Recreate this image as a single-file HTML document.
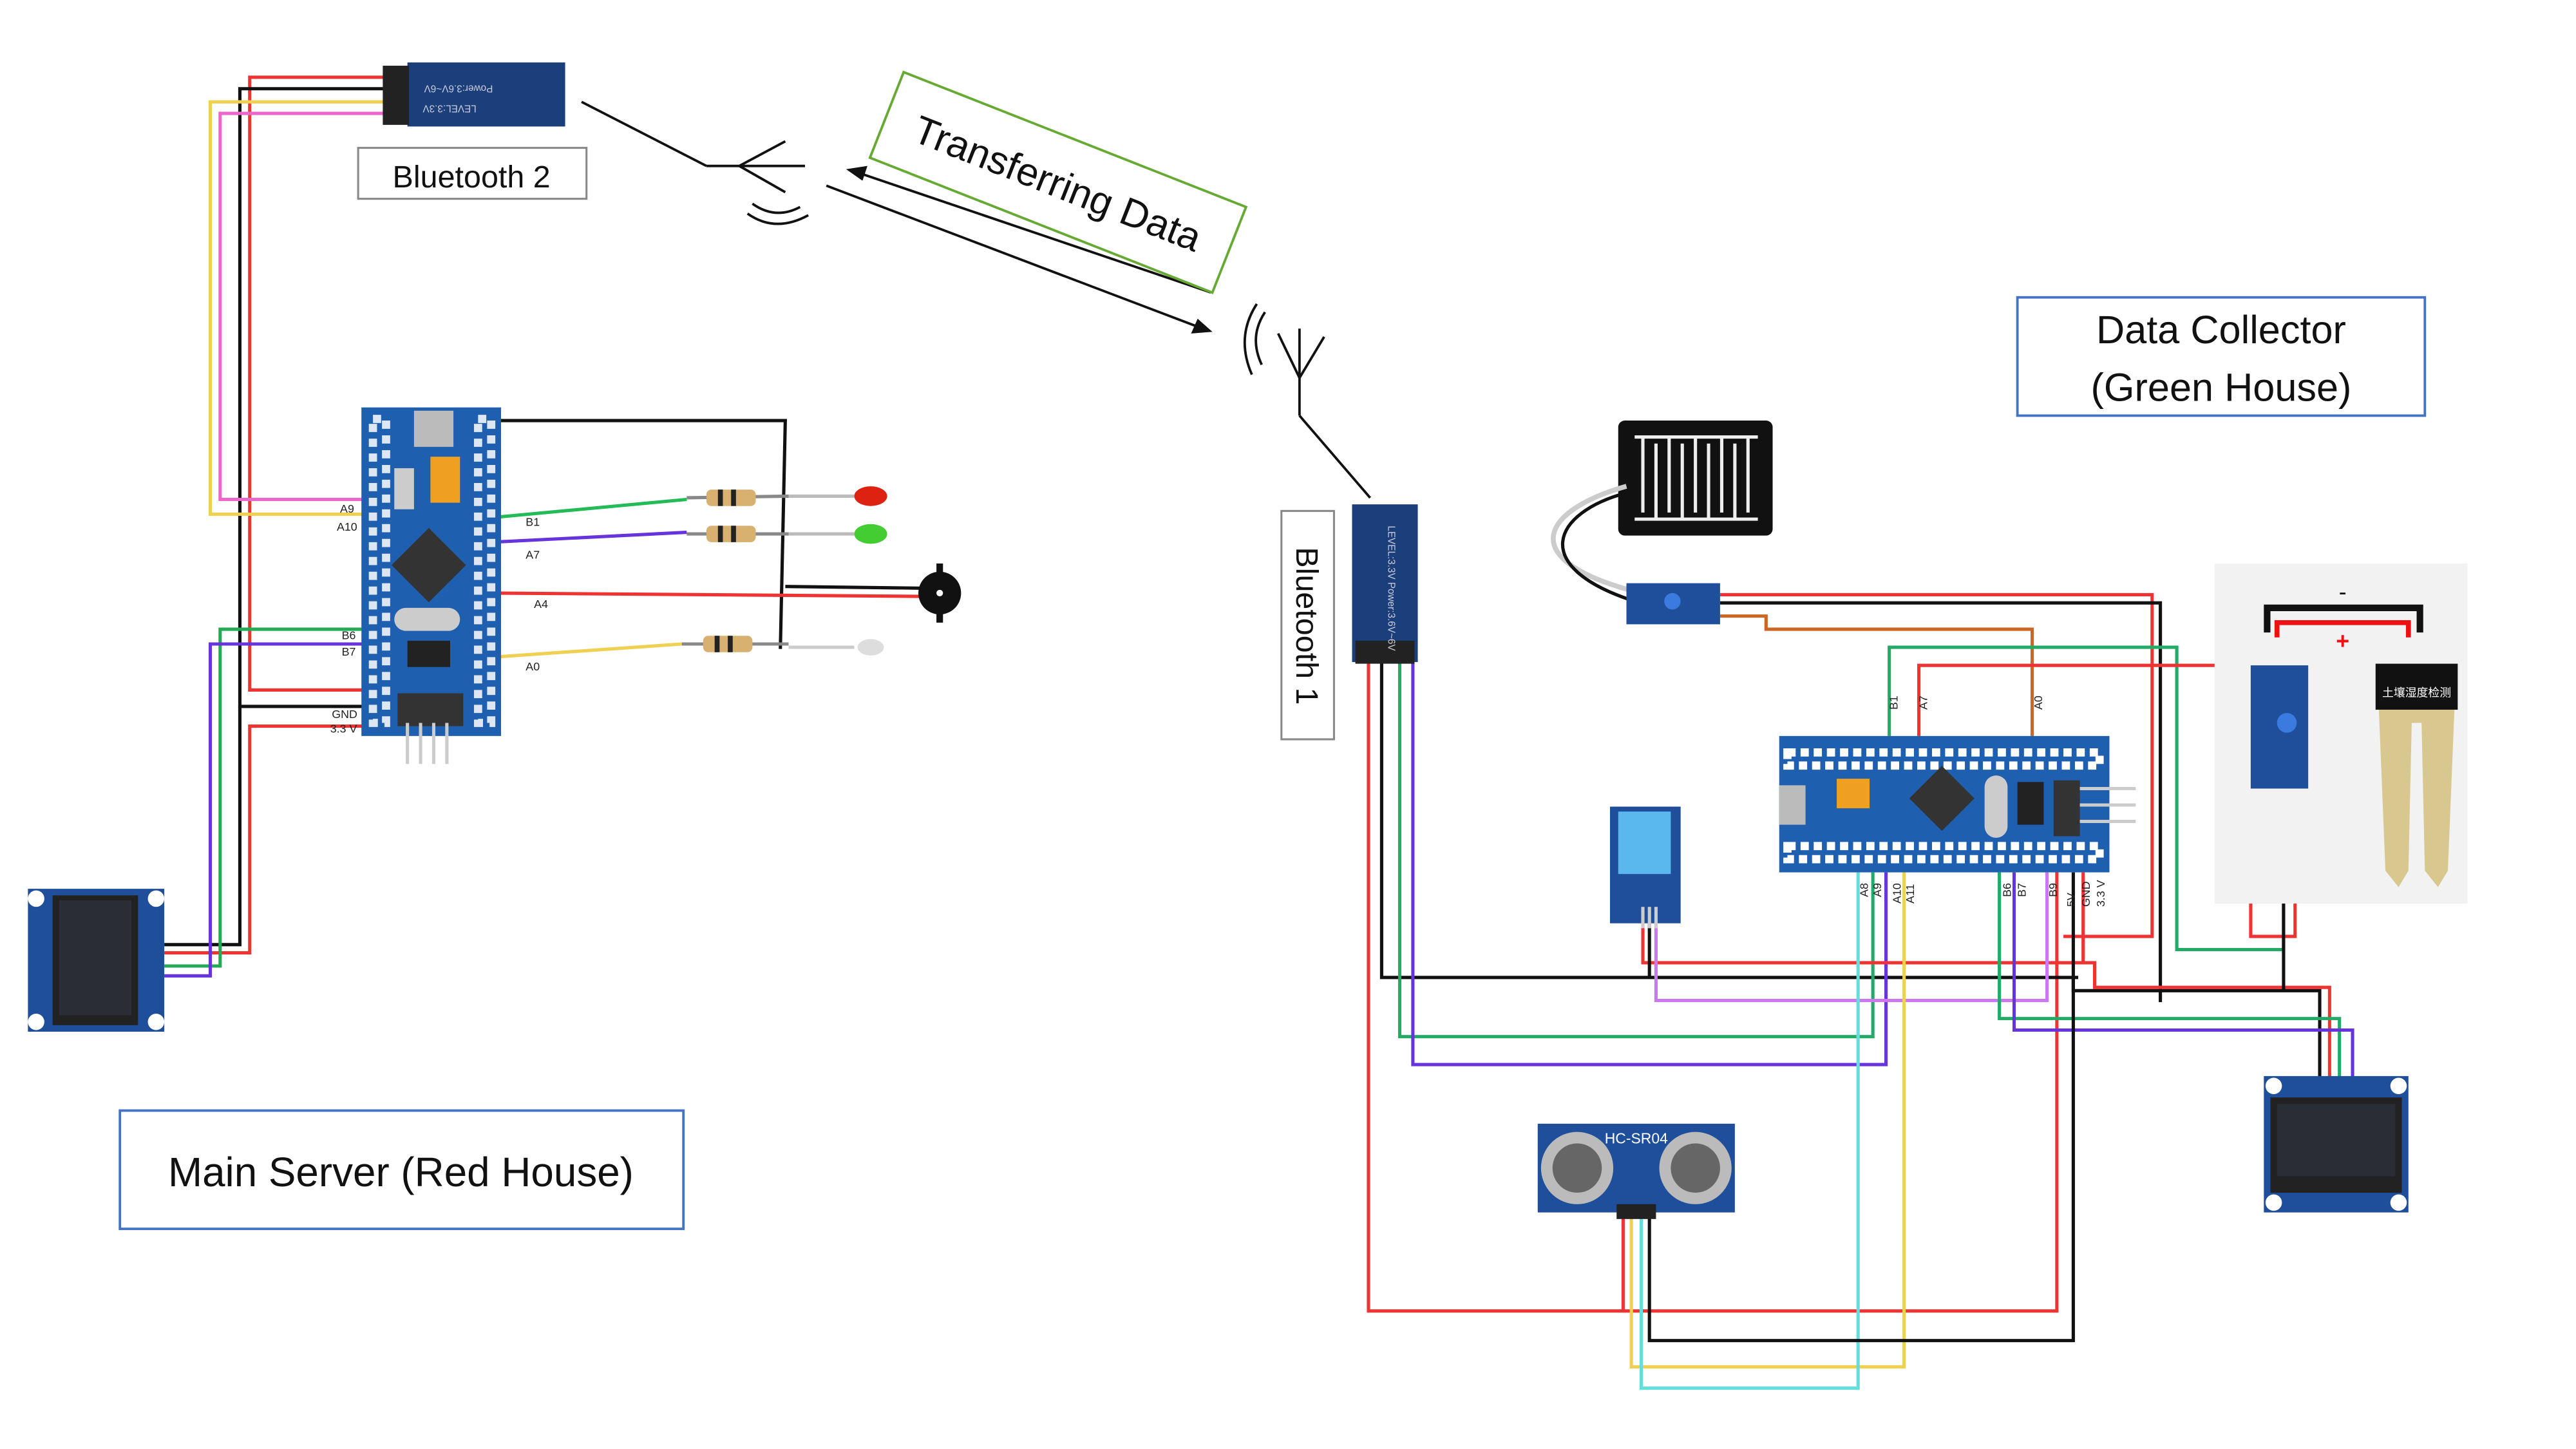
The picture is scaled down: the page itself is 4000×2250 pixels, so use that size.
<!DOCTYPE html>
<html><head><meta charset="utf-8"><style>
html,body{margin:0;padding:0;background:#fff;width:4000px;height:2250px;overflow:hidden}
svg{display:block}
text{font-family:"Liberation Sans","Noto Sans CJK SC",sans-serif}
</style></head><body>
<svg width="4000" height="2250" viewBox="0 0 1568 882" xmlns="http://www.w3.org/2000/svg">
<g fill="none" stroke-width="2">
<!-- Left wires -->
<polyline stroke="#e33" points="250,47 152,47 152,420 232,420"/>
<polyline stroke="#111" points="250,54 146,54 146,430 232,430"/>
<polyline stroke="#f0d050" points="250,62 128,62 128,313 232,313"/>
<polyline stroke="#ee66cc" points="250,69 134,69 134,304 232,304"/>
<polyline stroke="#111" points="146,430 146,575 100,575"/>
<polyline stroke="#e33" points="232,442 152,442 152,580 100,580"/>
<polyline stroke="#22aa55" points="232,383 134,383 134,588 100,588"/>
<polyline stroke="#6633dd" points="232,392 128,392 128,594 100,594"/>
<polyline stroke="#111" points="300,256 478,256 475,395"/>
<line stroke="#22bb55" x1="300" y1="315" x2="418" y2="304"/>
<line stroke="#6633dd" x1="300" y1="330" x2="418" y2="324"/>
<line stroke="#e33" x1="300" y1="361" x2="560" y2="363"/>
<line stroke="#111" x1="478" y1="357" x2="560" y2="358"/>
<line stroke="#f0d050" x1="300" y1="400" x2="415" y2="392"/>
<!-- Right wires -->
<polyline stroke="#e33" points="833,403 833,798 1252,798 1252,530"/>
<polyline stroke="#111" points="841,403 841,595 1265,595"/>
<polyline stroke="#22aa66" points="852,403 852,631 1140,631 1140,531"/>
<polyline stroke="#6633dd" points="860,403 860,648 1148,648 1148,531"/>
<polyline stroke="#e33" points="1047,362 1310,362 1310,570 1256,570"/>
<polyline stroke="#111" points="1047,367 1315,367 1315,610"/>
<polyline stroke="#cc6622" points="1047,375 1075,375 1075,383 1237,383 1237,448"/>
<polyline stroke="#22aa66" points="1150,448 1150,394 1325,394 1325,578 1390,578 1390,480"/>
<polyline stroke="#e33" points="1168,448 1168,405 1370,405 1370,570 1397,570 1397,480"/>
<polyline stroke="#e33" points="1000,560 1000,586 1268,586 1268,531"/>
<polyline stroke="#111" points="1004,560 1004,595"/>
<polyline stroke="#cc77ee" points="1008,560 1008,609 1246,609 1246,531"/>
<polyline stroke="#111" points="1262,531 1262,603 1412,603 1412,658"/>
<polyline stroke="#e33" points="1268,586 1275,586 1275,601 1418,601 1418,658"/>
<polyline stroke="#22aa66" points="1217,531 1217,620 1424,620 1424,658"/>
<polyline stroke="#6633dd" points="1226,531 1226,627 1432,627 1432,658"/>
<polyline stroke="#111" points="1390,480 1390,603"/>
<polyline stroke="#f0d050" points="993,740 993,832 1159,832 1159,531"/>
<polyline stroke="#66dddd" points="999,740 999,845 1131,845 1131,531"/>
<polyline stroke="#111" points="1004,740 1004,816 1262,816 1262,595"/>
<line stroke="#e33" x1="988" y1="740" x2="988" y2="798"/>
<!-- antennas -->
<g stroke="#111" stroke-width="1.5">
<line x1="354" y1="62" x2="430" y2="101"/>
<line x1="430" y1="101" x2="490" y2="101"/><line x1="450" y1="101" x2="478" y2="86"/><line x1="450" y1="101" x2="478" y2="117"/>
<path d="M458,124 Q472,134 487,126 M455,130 Q472,142 492,131"/>
<line x1="791" y1="253" x2="834" y2="303"/>
<line x1="791" y1="230" x2="791" y2="253"/><line x1="791" y1="230" x2="778" y2="203"/><line x1="791" y1="230" x2="806" y2="205"/><line x1="791" y1="200" x2="791" y2="230"/>
<path d="M770,190 Q760,205 768,222 M765,185 Q752,205 762,228"/>
<line x1="737" y1="178" x2="522" y2="105"/><line x1="503" y1="113" x2="732" y2="200"/>
</g>
<polygon fill="#111" stroke="none" points="515,103 528,101 525,110"/>
<polygon fill="#111" stroke="none" points="738,202 725,203 729,194"/>
</g>
<!-- Transferring Data box -->
<g transform="translate(644,111) rotate(21.5)">
<rect x="-112" y="-28" width="224" height="56" fill="#fff" stroke="#66aa33" stroke-width="1.5"/>
<text x="0" y="9" font-size="24" text-anchor="middle" fill="#111">Transferring Data</text>
</g>
<!-- Bluetooth 2 -->
<rect x="248" y="38" width="96" height="39" fill="#1a3f7a"/>
<rect x="233" y="40" width="16" height="36" fill="#222"/>
<text x="300" y="52" font-size="6" fill="#ccd" transform="rotate(180 300 52)">Power:3.6V~6V</text>
<text x="290" y="64" font-size="6" fill="#ccd" transform="rotate(180 290 64)">LEVEL:3.3V</text>
<rect x="218" y="90" width="139" height="31" fill="#fff" stroke="#888" stroke-width="1.2"/>
<text x="287" y="114" font-size="19" text-anchor="middle" fill="#111">Bluetooth 2</text>
<!-- left STM32 -->
<rect x="220" y="248" width="85" height="200" fill="#1f5fb0"/>
<g fill="#fff" opacity=".85">
<rect x="227" y="255" width="8" height="185" fill="none" stroke="#fff" stroke-dasharray="5 4" stroke-width="5"/>
<rect x="291" y="255" width="8" height="185" fill="none" stroke="#fff" stroke-dasharray="5 4" stroke-width="5"/>
</g>
<rect x="252" y="250" width="24" height="22" fill="#bbb"/>
<rect x="262" y="278" width="18" height="28" fill="#f0a020"/>
<rect x="240" y="285" width="12" height="25" fill="#ccc"/>
<rect x="245" y="328" width="32" height="32" fill="#333" transform="rotate(45 261 344)"/>
<rect x="240" y="370" width="40" height="14" rx="7" fill="#ccc"/>
<rect x="248" y="390" width="26" height="16" fill="#222"/>
<rect x="242" y="422" width="40" height="20" fill="#333"/>
<g stroke="#ccc" stroke-width="2"><line x1="248" y1="440" x2="248" y2="465"/><line x1="256" y1="440" x2="256" y2="465"/><line x1="264" y1="440" x2="264" y2="465"/><line x1="272" y1="440" x2="272" y2="465"/></g>
<g font-size="7" fill="#222">
<text x="207" y="312">A9</text><text x="205" y="323">A10</text><text x="208" y="389">B6</text><text x="208" y="399">B7</text>
<text x="202" y="437">GND</text><text x="201" y="446">3.3 V</text>
<text x="320" y="320">B1</text><text x="320" y="340">A7</text><text x="325" y="370">A4</text><text x="320" y="408">A0</text>
</g>
<!-- resistors & LEDs -->
<g>
<line x1="418" y1="303" x2="480" y2="302" stroke="#888" stroke-width="2"/>
<rect x="430" y="298" width="30" height="10" rx="3" fill="#d8b070"/>
<line x1="418" y1="325" x2="480" y2="325" stroke="#888" stroke-width="2"/>
<rect x="430" y="320" width="30" height="10" rx="3" fill="#d8b070"/>
<line x1="415" y1="392" x2="480" y2="392" stroke="#888" stroke-width="2"/>
<rect x="428" y="387" width="30" height="10" rx="3" fill="#d8b070"/>
<g fill="#222"><rect x="437" y="298" width="3" height="10"/><rect x="445" y="298" width="3" height="10"/><rect x="437" y="320" width="3" height="10"/><rect x="445" y="320" width="3" height="10"/><rect x="435" y="387" width="3" height="10"/><rect x="443" y="387" width="3" height="10"/></g>
<line x1="480" y1="302" x2="520" y2="302" stroke="#bbb" stroke-width="2"/><ellipse cx="530" cy="302" rx="10" ry="6" fill="#dd2211"/>
<line x1="480" y1="325" x2="520" y2="325" stroke="#bbb" stroke-width="2"/><ellipse cx="530" cy="325" rx="10" ry="6" fill="#44cc33"/>
<line x1="480" y1="394" x2="520" y2="394" stroke="#ccc" stroke-width="2"/><ellipse cx="530" cy="394" rx="8" ry="5" fill="#ddd"/>
<circle cx="572" cy="361" r="13" fill="#111"/><circle cx="572" cy="361" r="2" fill="#fff"/>
<rect x="570" y="343" width="4" height="6" fill="#111"/><rect x="570" y="373" width="4" height="6" fill="#111"/>
</g>
<!-- left OLED -->
<rect x="17" y="541" width="83" height="87" fill="#1f4f9a"/>
<rect x="32" y="545" width="52" height="79" fill="#222"/>
<rect x="36" y="548" width="44" height="70" fill="#2a2d35"/>
<g fill="#fff"><circle cx="22" cy="547" r="5"/><circle cx="95" cy="547" r="5"/><circle cx="22" cy="622" r="5"/><circle cx="95" cy="622" r="5"/></g>
<!-- Main Server box -->
<rect x="73" y="676" width="343" height="72" fill="#fff" stroke="#4472c4" stroke-width="1.5"/>
<text x="244" y="722" font-size="25" text-anchor="middle" fill="#111">Main Server (Red House)</text>
<!-- Bluetooth 1 -->
<rect x="823" y="307" width="40" height="96" fill="#1a3f7a"/>
<rect x="825" y="390" width="36" height="14" fill="#222"/>
<text x="845" y="320" font-size="6" fill="#ccd" transform="rotate(90 845 320)">LEVEL:3.3V Power:3.6V~6V</text>
<rect x="780" y="311" width="32" height="139" fill="#fff" stroke="#888" stroke-width="1.2"/>
<text x="789" y="381" font-size="19" text-anchor="middle" fill="#111" transform="rotate(90 789 381)">Bluetooth 1</text>
<!-- Data Collector box -->
<rect x="1228" y="181" width="248" height="72" fill="#fff" stroke="#4472c4" stroke-width="1.5"/>
<text x="1352" y="209" font-size="24" text-anchor="middle" fill="#111">Data Collector</text>
<text x="1352" y="244" font-size="24" text-anchor="middle" fill="#111">(Green House)</text>
<!-- rain sensor -->
<rect x="985" y="256" width="94" height="70" rx="4" fill="#111"/>
<g stroke="#eee" stroke-width="2" fill="none"><path d="M995,266 H1070 M995,316 H1070"/>
<path d="M1000,266 V312 M1008,270 V316 M1016,266 V312 M1024,270 V316 M1032,266 V312 M1040,270 V316 M1048,266 V312 M1056,270 V316 M1064,266 V312"/></g>
<path d="M990,296 C940,310 920,340 995,360" stroke="#ccc" stroke-width="3" fill="none"/>
<path d="M990,300 C945,312 930,345 995,366" stroke="#111" stroke-width="2" fill="none"/>
<rect x="990" y="355" width="57" height="25" fill="#1f4f9a"/>
<circle cx="1018" cy="366" r="5" fill="#3b7be0"/>
<!-- right STM32 -->
<rect x="1083" y="448" width="201" height="83" fill="#1f5fb0"/>
<rect x="1088" y="458" width="190" height="8" fill="none" stroke="#fff" stroke-dasharray="5 3" stroke-width="5"/>
<rect x="1088" y="515" width="190" height="8" fill="none" stroke="#fff" stroke-dasharray="5 3" stroke-width="5"/>
<rect x="1083" y="478" width="16" height="24" fill="#bbb"/>
<rect x="1118" y="474" width="20" height="18" fill="#f0a020"/>
<rect x="1168" y="472" width="28" height="28" fill="#333" transform="rotate(45 1182 486)"/>
<rect x="1208" y="472" width="14" height="38" rx="7" fill="#ccc"/>
<rect x="1228" y="476" width="16" height="26" fill="#222"/>
<rect x="1250" y="475" width="16" height="34" fill="#333"/>
<g stroke="#ccc" stroke-width="2"><line x1="1266" y1="480" x2="1300" y2="480"/><line x1="1266" y1="490" x2="1300" y2="490"/><line x1="1266" y1="500" x2="1300" y2="500"/></g>
<g font-size="7" fill="#222">
<text transform="translate(1155,432) rotate(-90)">B1</text><text transform="translate(1173,432) rotate(-90)">A7</text><text transform="translate(1243,432) rotate(-90)">A0</text>
<text transform="translate(1137,546) rotate(-90)">A8</text><text transform="translate(1145,546) rotate(-90)">A9</text><text transform="translate(1157,550) rotate(-90)">A10</text><text transform="translate(1165,550) rotate(-90)">A11</text>
<text transform="translate(1224,546) rotate(-90)">B6</text><text transform="translate(1233,546) rotate(-90)">B7</text><text transform="translate(1252,546) rotate(-90)">B9</text>
<text transform="translate(1263,552) rotate(-90)">5V</text><text transform="translate(1272,552) rotate(-90)">GND</text><text transform="translate(1281,552) rotate(-90)">3.3 V</text>
</g>
<!-- DHT -->
<rect x="980" y="491" width="43" height="71" fill="#1f4f9a"/>
<rect x="985" y="494" width="32" height="38" fill="#5ab8ee"/>
<g stroke="#ccc" stroke-width="2"><line x1="1000" y1="552" x2="1000" y2="565"/><line x1="1004" y1="552" x2="1004" y2="565"/><line x1="1008" y1="552" x2="1008" y2="565"/></g>
<!-- soil sensor -->
<rect x="1348" y="343" width="154" height="207" fill="#f2f2f2"/>
<path d="M1380,385 V370 H1473 V385" stroke="#111" stroke-width="4" fill="none"/>
<path d="M1386,388 V379 H1466 V388" stroke="#e11" stroke-width="3" fill="none"/>
<text x="1426" y="365" font-size="14" text-anchor="middle" fill="#111">-</text>
<text x="1426" y="395" font-size="14" text-anchor="middle" fill="#e11" font-weight="bold">+</text>
<rect x="1370" y="405" width="35" height="75" fill="#1f4f9a"/>
<circle cx="1392" cy="440" r="6" fill="#3b7be0"/>
<rect x="1446" y="404" width="50" height="28" fill="#111"/>
<text x="1471" y="424" font-size="7" text-anchor="middle" fill="#fff">土壤湿度检测</text>
<path d="M1448,432 H1494 L1490,530 L1484,540 L1476,530 L1474,440 H1468 L1466,530 L1460,540 L1452,530 Z" fill="#d8c890"/>
<!-- ultrasonic -->
<rect x="936" y="684" width="120" height="54" fill="#1f4f9a"/>
<circle cx="960" cy="711" r="22" fill="#bbb"/><circle cx="960" cy="711" r="15" fill="#666"/>
<circle cx="1032" cy="711" r="22" fill="#bbb"/><circle cx="1032" cy="711" r="15" fill="#666"/>
<text x="996" y="696" font-size="9" text-anchor="middle" fill="#fff">HC-SR04</text>
<rect x="984" y="733" width="24" height="9" fill="#222"/>
<!-- right OLED -->
<rect x="1378" y="655" width="88" height="83" fill="#1f4f9a"/>
<rect x="1382" y="668" width="80" height="58" fill="#222"/>
<rect x="1386" y="672" width="72" height="44" fill="#2a2d35"/>
<g fill="#fff"><circle cx="1384" cy="661" r="5"/><circle cx="1460" cy="661" r="5"/><circle cx="1384" cy="732" r="5"/><circle cx="1460" cy="732" r="5"/></g>
</svg>
</body></html>
